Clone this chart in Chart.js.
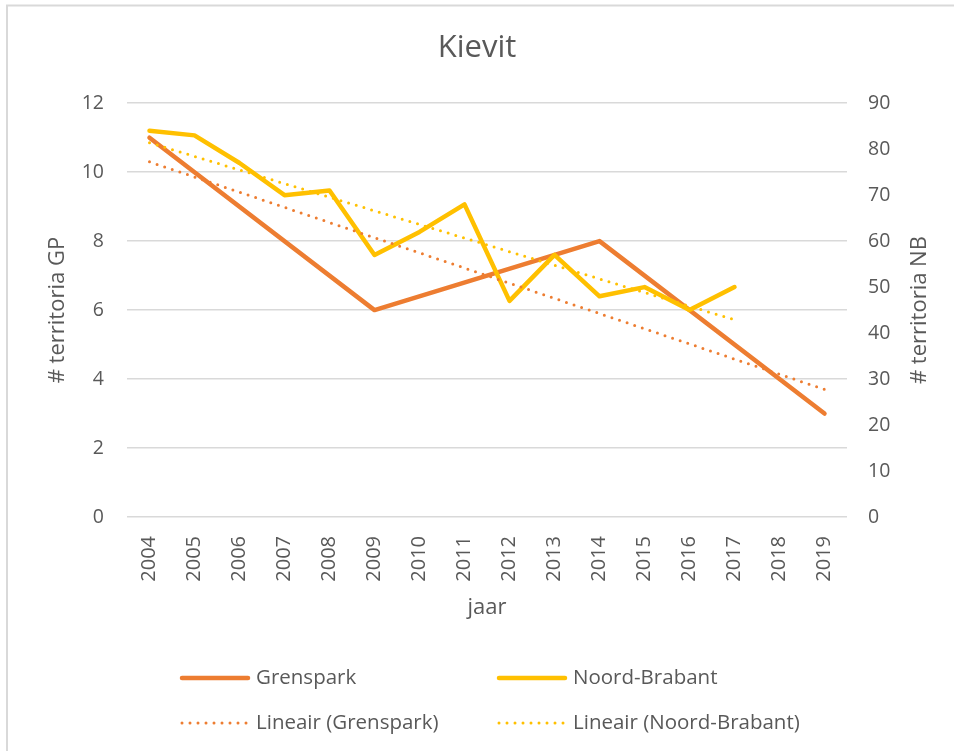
<!DOCTYPE html>
<html>
<head>
<meta charset="utf-8">
<script src="https://cdn.jsdelivr.net/npm/chart.js@4.4.1/dist/chart.umd.min.js"></script>
<style>
  html, body { margin: 0; padding: 0; background: #fff; }
  #wrap { width: 954px; height: 751px; }
</style>
</head>
<body>
<div id="wrap"><canvas id="chartKievit" width="954" height="751"></canvas></div>
<script>
// ==============================
// Data
// ==============================
const years = ['2004','2005','2006','2007','2008','2009','2010','2011','2012','2013','2014','2015','2016','2017','2018','2019'];
const grenspark = [11, null, null, null, null, 6, null, null, null, null, 8, null, null, null, null, 3];
const noordBrabant = [84, 83, 77, 70, 71, 57, 62, 68, 47, 57, 48, 50, 45, 50, null, null];
// trendline end points
const trendGrenspark = [10.3, null, null, null, null, null, null, null, null, null, null, null, null, null, null, 3.7];
const trendNoordBrabant = [81.4, null, null, null, null, null, null, null, null, null, null, null, null, 42.9, null, null];
const leftTicks = [0, 2, 4, 6, 8, 10, 12];
const rightTicks = [0, 10, 20, 30, 40, 50, 60, 70, 80, 90];

const ORANGE = '#ED7D31';
const YELLOW = '#FFC000';
const TEXT = '#595959';
const GRID = '#d9d9d9';
const FONT = "'Open Sans', 'DejaVu Sans', sans-serif";

// ==============================
// Plugin: frame, right axis title, legend
// ==============================
const extras = {
    id: 'extras',
    beforeDraw(chart) {
        const ctx = chart.ctx;
        ctx.save();
        ctx.fillStyle = '#fff';
        ctx.fillRect(0, 0, chart.width, chart.height);
        ctx.strokeStyle = GRID;
        ctx.lineWidth = 2;
        ctx.beginPath();
        ctx.moveTo(7, chart.height);
        ctx.lineTo(7, 5.5);
        ctx.lineTo(chart.width, 5.5);
        ctx.stroke();
        ctx.restore();
    },
    afterDraw(chart) {
        const ctx = chart.ctx;
        const area = chart.chartArea;
        ctx.save();
        // right axis title, reads bottom to top
        ctx.fillStyle = TEXT;
        ctx.font = `22px ${FONT}`;
        ctx.textAlign = 'center';
        ctx.textBaseline = 'middle';
        ctx.translate(920, (area.top + area.bottom) / 2);
        ctx.rotate(-Math.PI / 2);
        ctx.fillText('# territoria NB', 0, 0);
        ctx.restore();

        // legend, 2 x 2 grid
        const cols = [180, 497];
        const rows = [678, 723];
        chart.data.datasets.forEach((ds, i) => {
            const x = cols[i % 2];
            const y = rows[Math.floor(i / 2)];
            ctx.save();
            ctx.strokeStyle = ds.borderColor;
            ctx.lineWidth = ds.borderWidth;
            ctx.lineCap = 'round';
            ctx.setLineDash(ds.borderDash || []);
            ctx.beginPath();
            ctx.moveTo(x + 2, y);
            ctx.lineTo(x + 68, y);
            ctx.stroke();
            ctx.setLineDash([]);
            ctx.fillStyle = TEXT;
            ctx.font = `20.5px ${FONT}`;
            ctx.textAlign = 'left';
            ctx.textBaseline = 'middle';
            ctx.fillText(ds.label, x + 76, y);
            ctx.restore();
        });
    }
};

// ==============================
// Chart
// ==============================
function renderChart() {
    const ctx = document.getElementById('chartKievit').getContext('2d');
    new Chart(ctx, {
        type: 'line',
        data: {
            labels: years,
            datasets: [
                {
                    label: 'Grenspark',
                    data: grenspark,
                    yAxisID: 'y',
                    borderColor: ORANGE,
                    borderWidth: 4.5,
                    borderJoinStyle: 'round',
                    borderCapStyle: 'round',
                    pointRadius: 0,
                    spanGaps: true,
                    tension: 0,
                    order: 3
                },
                {
                    label: 'Noord-Brabant',
                    data: noordBrabant,
                    yAxisID: 'y1',
                    borderColor: YELLOW,
                    borderWidth: 4.5,
                    borderJoinStyle: 'round',
                    borderCapStyle: 'round',
                    pointRadius: 0,
                    tension: 0,
                    order: 2
                },
                {
                    label: 'Lineair (Grenspark)',
                    data: trendGrenspark,
                    yAxisID: 'y',
                    borderColor: ORANGE,
                    borderWidth: 3,
                    borderDash: [0, 8],
                    borderCapStyle: 'round',
                    pointRadius: 0,
                    spanGaps: true,
                    order: 1
                },
                {
                    label: 'Lineair (Noord-Brabant)',
                    data: trendNoordBrabant,
                    yAxisID: 'y1',
                    borderColor: YELLOW,
                    borderWidth: 3,
                    borderDash: [0, 8],
                    borderCapStyle: 'round',
                    pointRadius: 0,
                    spanGaps: true,
                    order: 0
                }
            ]
        },
        options: {
            responsive: false,
            animation: false,
            devicePixelRatio: 1,
            layout: { padding: { top: 0, left: 0, right: 0, bottom: 130 } },
            plugins: {
                legend: { display: false },
                tooltip: { enabled: false },
                title: {
                    display: true,
                    text: 'Kievit',
                    color: TEXT,
                    font: { family: FONT, size: 31, weight: 'normal' },
                    padding: { top: 30, bottom: 36 }
                }
            },
            scales: {
                x: {
                    offset: true,
                    grid: { display: false },
                    border: { display: false },
                    ticks: {
                        autoSkip: false,
                        minRotation: 90,
                        maxRotation: 90,
                        padding: 11,
                        color: TEXT,
                        font: { family: FONT, size: 20 }
                    },
                    title: {
                        display: true,
                        text: 'jaar',
                        color: TEXT,
                        font: { family: FONT, size: 22 },
                        padding: 0
                    },
                    afterFit(scale) { scale.height = 104; }
                },
                y: {
                    position: 'left',
                    min: 0,
                    max: 12,
                    afterBuildTicks(scale) { scale.ticks = leftTicks.map(v => ({ value: v })); },
                    grid: { color: GRID, lineWidth: 1.5, drawTicks: false },
                    border: { display: false },
                    ticks: { padding: 23, color: TEXT, font: { family: FONT, size: 19.5 } },
                    title: {
                        display: true,
                        text: '# territoria GP',
                        color: TEXT,
                        font: { family: FONT, size: 22 },
                        padding: { top: 45, bottom: 0 }
                    },
                    afterFit(scale) { scale.width = 127; }
                },
                y1: {
                    position: 'right',
                    min: 0,
                    max: 90,
                    afterBuildTicks(scale) { scale.ticks = rightTicks.map(v => ({ value: v })); },
                    grid: { display: false, drawTicks: false },
                    border: { display: false },
                    ticks: { padding: 21, color: TEXT, font: { family: FONT, size: 19.5 } },
                    afterFit(scale) { scale.width = 107; }
                }
            }
        },
        plugins: [extras]
    });
}

renderChart();
</script>
</body>
</html>
